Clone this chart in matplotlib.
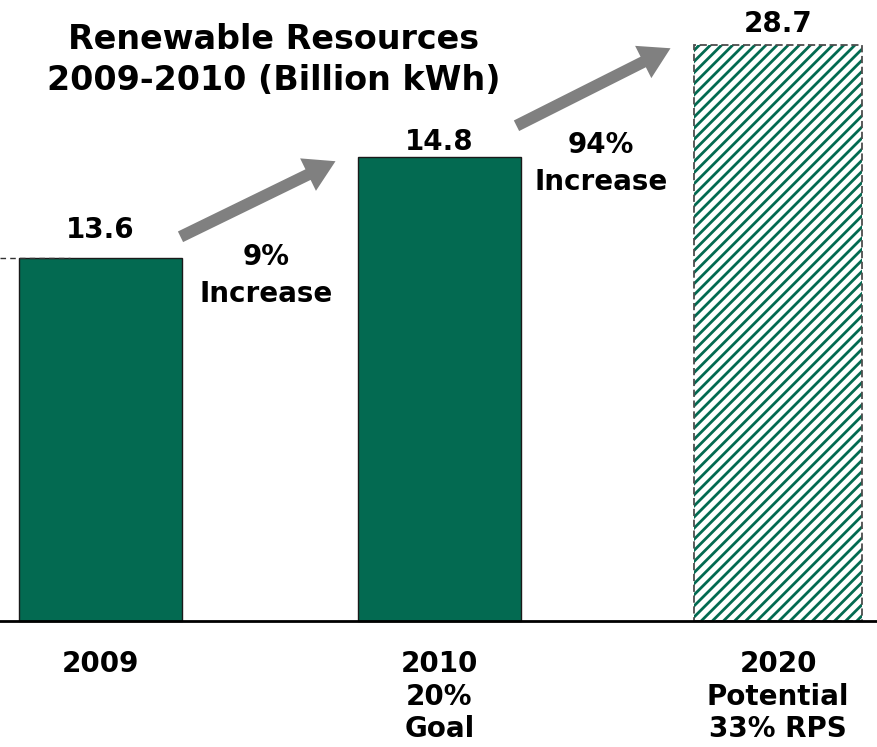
import numpy as np
import matplotlib
matplotlib.use("Agg")
import matplotlib.pyplot as plt
from matplotlib.patches import FancyArrowPatch

# Data
categories = ["2009", "2010\n20%\nGoal", "2020\nPotential\n33% RPS"]
values = [13.6, 14.8, 28.7]
is_projection = [False, False, True]
increase_labels = ["9%\nIncrease", "94%\nIncrease"]
title = "Renewable Resources\n2009-2010 (Billion kWh)"

GREEN = "#036a51"
ARROW_GREY = "#808080"

# The source chart is not drawn to scale: the axis starts above zero and the
# 2020 projection is squeezed above a break, so use a broken function scale.
Y_FLOOR = 9.3
BREAK = 15.4
SQUEEZE = 0.055


def _forward(v):
    v = np.asarray(v, dtype=float)
    return np.where(v <= BREAK, v, BREAK + (v - BREAK) * SQUEEZE)


def _inverse(u):
    u = np.asarray(u, dtype=float)
    return np.where(u <= BREAK, u, BREAK + (u - BREAK) / SQUEEZE)


plt.rcParams["font.family"] = ["DejaVu Sans"]
plt.rcParams["font.weight"] = "bold"
plt.rcParams["hatch.linewidth"] = 2.0
plt.rcParams["hatch.color"] = GREEN

fig = plt.figure(figsize=(8.78, 7.47), dpi=100)
ax = fig.add_axes([0.0, 126 / 747, 1.0, 576 / 747])
ax.set_yscale("function", functions=(_forward, _inverse))

x = np.arange(len(categories))
heights = [v - Y_FLOOR for v in values]
for xi, h, proj in zip(x, heights, is_projection):
    if proj:
        ax.bar(xi, h, width=0.495, bottom=Y_FLOOR, color="white",
               edgecolor=GREEN, hatch="///", linewidth=0, clip_on=False)
        ax.bar(xi, h, width=0.495, bottom=Y_FLOOR, fill=False,
               edgecolor="#4d4d4d", linestyle=(0, (4, 2)), linewidth=1.3,
               clip_on=False)
    else:
        ax.bar(xi, h, width=0.48, bottom=Y_FLOOR, color=GREEN,
               edgecolor="#1a1a1a", linewidth=1.0, clip_on=False)

# value labels above the bars (gap in points, as in the source)
label_gaps = [15, 5, 9]
for xi, val, gap in zip(x, values, label_gaps):
    ax.annotate(f"{val:.1f}", (xi, val), xytext=(0, gap),
                textcoords="offset points", ha="center", va="baseline",
                fontsize=20)

# leftover dashed gridline fragment at the 2009 level
ax.axhline(values[0], xmin=0, xmax=0.08, color="#333333",
           linestyle=(0, (4, 3)), linewidth=1.0)

ax.set_xlim(-0.297, 2.295)
ax.set_ylim(Y_FLOOR, values[2])
ax.set_xticks(x)
ax.set_xticklabels(categories, fontsize=20, linespacing=1.2, va="top")
ax.tick_params(axis="x", length=0, pad=21)
ax.set_yticks([])
for side in ["left", "right", "top"]:
    ax.spines[side].set_visible(False)
ax.spines["bottom"].set_linewidth(2.0)
ax.spines["bottom"].set_color("black")

# growth arrows between the bars (figure pixel positions)
W, H = 878, 747
arrows = [((178, 238), (338, 160)), ((514, 127), (673, 47))]
for (x0, y0), (x1, y1) in arrows:
    fig.add_artist(FancyArrowPatch(
        (x0 / W, 1 - y0 / H), (x1 / W, 1 - y1 / H),
        transform=fig.transFigure,
        arrowstyle="simple,head_width=2.6,head_length=2.2,tail_width=0.85",
        mutation_scale=10, color=ARROW_GREY, linewidth=0))

fig.text(266 / W, 1 - 302 / H, increase_labels[0], ha="center", va="baseline",
         fontsize=20, linespacing=1.43)
fig.text(601 / W, 1 - 190 / H, increase_labels[1], ha="center", va="baseline",
         fontsize=20, linespacing=1.43)

fig.text(274 / W, 1 - 90 / H, title, ha="center", va="baseline",
         fontsize=24, linespacing=1.32)

fig.savefig("out.png", dpi=100)
